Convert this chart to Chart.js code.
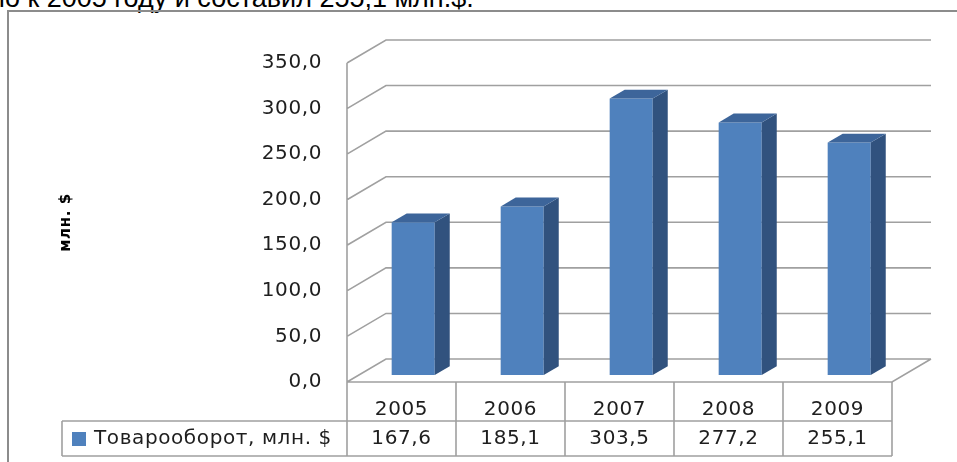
<!DOCTYPE html>
<html><head><meta charset="utf-8">
<script src="https://cdn.jsdelivr.net/npm/chart.js@4/dist/chart.umd.min.js"></script>
<style>
html,body{margin:0;padding:0;background:#fff;width:957px;height:462px;overflow:hidden}
#topText{position:absolute;left:-10px;top:-15px;font:27px "Liberation Sans",Arial,sans-serif;line-height:27px;color:#000;white-space:nowrap}
#c{position:absolute;left:0;top:0}
</style></head><body>
<div id="topText">но к 2005 году и составил 255,1 млн.$.</div>
<canvas id="c" width="957" height="462"></canvas>
<script>
const categories = ['2005', '2006', '2007', '2008', '2009'];
const values = [167.6, 185.1, 303.5, 277.2, 255.1];
const valueLabels = ['167,6', '185,1', '303,5', '277,2', '255,1'];
const yTickValues = [0, 50, 100, 150, 200, 250, 300, 350];
const seriesName = 'Товарооборот, млн. $';
const axisTitle = 'млн. $';

const DX = 39, DY = -23;       // depth of the 3D box
const F0 = 0.30, BD = 0.385;   // bar front depth fraction, bar depth fraction
const GRID = '#a0a0a0';
const FRONT = '#4F81BD', SIDE = '#31527E', TOP = '#3D659A';
const FAMILY = '"DejaVu Sans", Verdana, sans-serif';
const FONT = '20px ' + FAMILY;
const TEXT = '#1e1e1e';

function fmt(v){ return v.toFixed(1).replace('.', ','); }

const box3d = {
  id: 'box3d',
  beforeDraw(chart) {
    chart.ctx.letterSpacing = '0.6px';
  },
  beforeDatasetsDraw(chart) {
    const {ctx, chartArea: a, scales: {y}} = chart;
    ctx.save();
    ctx.strokeStyle = GRID; ctx.lineWidth = 1.6;
    ctx.beginPath();
    yTickValues.forEach(v => {
      const yy = y.getPixelForValue(v);
      ctx.moveTo(a.left, yy);
      ctx.lineTo(a.left + DX, yy + DY);
      ctx.lineTo(a.right + DX, yy + DY);
    });
    ctx.moveTo(a.left, a.top); ctx.lineTo(a.left, a.bottom);
    ctx.moveTo(a.left, a.bottom); ctx.lineTo(a.right, a.bottom);
    ctx.lineTo(a.right + DX, a.bottom + DY);
    ctx.stroke();
    ctx.restore();
    ctx.save();
    ctx.translate(F0 * DX, F0 * DY);
  },
  afterDatasetsDraw(chart) {
    const {ctx} = chart;
    const meta = chart.getDatasetMeta(0);
    meta.data.forEach(bar => {
      const {x, y, base, width} = bar.getProps(['x', 'y', 'base', 'width'], true);
      const l = x - width / 2, r = x + width / 2;
      const ox = BD * DX, oy = BD * DY;
      ctx.fillStyle = SIDE;
      ctx.beginPath();
      ctx.moveTo(r, y); ctx.lineTo(r + ox, y + oy); ctx.lineTo(r + ox, base + oy); ctx.lineTo(r, base);
      ctx.closePath(); ctx.fill();
      ctx.fillStyle = TOP;
      ctx.beginPath();
      ctx.moveTo(l, y); ctx.lineTo(r, y); ctx.lineTo(r + ox, y + oy); ctx.lineTo(l + ox, y + oy);
      ctx.closePath(); ctx.fill();
    });
    ctx.restore();
  },
  afterDraw(chart) {
    const {ctx, chartArea: a, scales: {x}} = chart;
    const catW = (a.right - a.left) / categories.length;
    const rowTop = a.bottom, rowMid = a.bottom + 39, rowBot = a.bottom + 74;
    const legL = 62;
    ctx.save();
    ctx.strokeStyle = '#8c8c8c'; ctx.lineWidth = 2;
    ctx.strokeRect(8, 11, 1000, 500);
    ctx.strokeStyle = GRID; ctx.lineWidth = 1.6;
    ctx.beginPath();
    for (let i = 0; i <= categories.length; i++) {
      const xx = a.left + i * catW;
      ctx.moveTo(xx, rowTop); ctx.lineTo(xx, rowBot);
    }
    ctx.moveTo(legL, rowMid); ctx.lineTo(a.right, rowMid);
    ctx.moveTo(legL, rowMid); ctx.lineTo(legL, rowBot);
    ctx.moveTo(legL, rowBot); ctx.lineTo(a.right, rowBot);
    ctx.stroke();
    ctx.font = FONT; ctx.fillStyle = TEXT;
    ctx.textAlign = 'center'; ctx.textBaseline = 'middle';
    categories.forEach((c, i) => {
      const cx = x.getPixelForValue(i);
      ctx.fillText(c, cx, rowTop + 28);
      ctx.fillText(valueLabels[i], cx, rowMid + 18);
    });
    ctx.fillStyle = FRONT;
    ctx.fillRect(72, rowMid + 11, 14, 14);
    ctx.fillStyle = TEXT; ctx.textAlign = 'left';
    ctx.fillText(seriesName, 94, rowMid + 18);
    ctx.restore();
  }
};

new Chart(document.getElementById('c'), {
  type: 'bar',
  data: {
    labels: categories,
    datasets: [{ label: seriesName, data: values, backgroundColor: FRONT,
      barPercentage: 0.395, categoryPercentage: 1.0 }]
  },
  options: {
    responsive: false, animation: false, devicePixelRatio: 1,
    layout: { padding: { left: 0, top: 63, right: 65, bottom: 80 } },
    plugins: { legend: { display: false }, tooltip: { enabled: false } },
    scales: {
      x: { display: false, offset: true },
      y: {
        min: 0, max: 350,
        afterFit(s) { s.width = 347; },
        afterBuildTicks(s) { s.ticks = yTickValues.map(v => ({ value: v })); },
        ticks: { callback: v => fmt(v), font: { family: FAMILY, size: 20 },
          color: TEXT, padding: 25 },
        grid: { display: false, drawTicks: false },
        border: { display: false },
        title: { display: true, text: axisTitle, color: '#000',
          font: { family: FAMILY, size: 15, weight: 'bold' },
          padding: { top: 57, bottom: 0 } }
      }
    }
  },
  plugins: [box3d]
});
</script>
</body></html>
